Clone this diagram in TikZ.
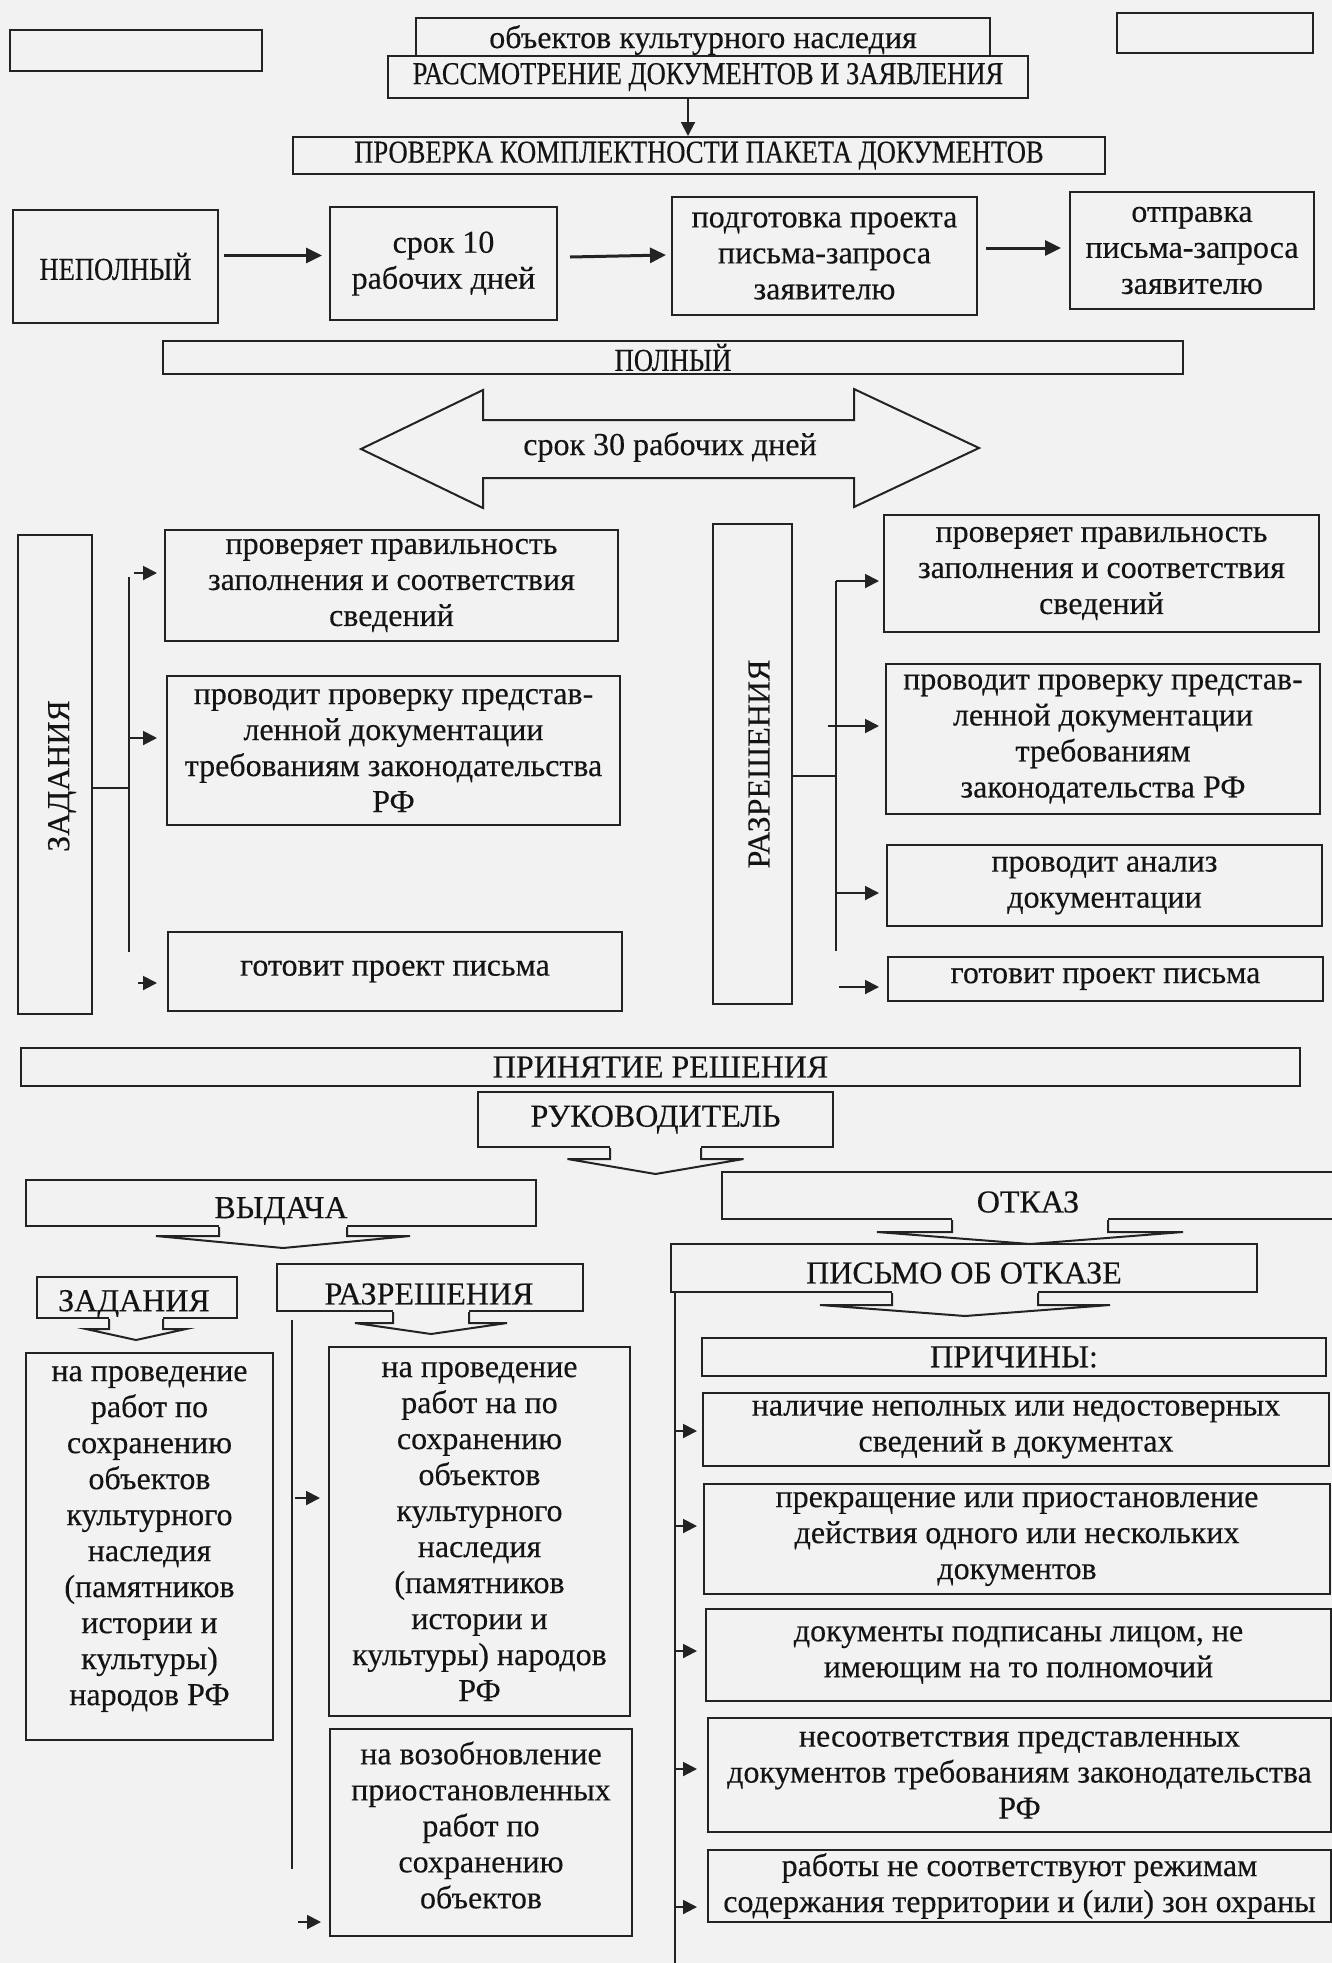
\documentclass[tikz,border=0pt]{standalone}
\usepackage{fontspec}
\setmainfont[FakeBold=0.3]{Liberation Serif}
\newfontfamily\cond[FakeStretch=0.83,FakeBold=0.3]{Liberation Serif}
\usetikzlibrary{arrows.meta,calc}
\definecolor{bg}{RGB}{242,242,242}
\definecolor{ln}{RGB}{35,35,35}
\definecolor{tx}{RGB}{20,20,20}
\newcommand\bodyfont{\fontsize{32}{36}\selectfont}
% #1 node, #2 x offset of stem centre, #3 stem half width, #4 stem length, #5 head half width, #6 head height
\newcommand\downcallout[6]{%
  \fill[bg] ($(#1.south)+(#2-#3,-1.6)$) rectangle ($(#1.south)+(#2+#3,#4)$);
  \draw[lnst] ($(#1.south)+(#2-#3,0)$) -- ++(0,#4) -- ++(#3-#5,0) -- ($(#1.south)+(#2,#4+#6)$) -- ($(#1.south)+(#2+#5,#4)$) -- ++(#3-#5,0) -- ++(0,-#4);
}
\begin{document}
\begin{tikzpicture}[x=1pt,y=-1pt,
  box/.style={draw=ln,line width=2pt,fill=bg,inner sep=3pt,align=center,text=tx,font=\bodyfont},
  txt/.style={text=tx,font=\bodyfont,align=center,inner sep=0pt},
  lnst/.style={draw=ln,line width=2pt},
  arr/.style={draw=ln,line width=2pt,-{Triangle[length=14pt,width=14pt]}},
  bigarr/.style={draw=ln,line width=3pt,-{Triangle[length=16pt,width=15pt]}}]
\useasboundingbox (0,0) rectangle (1332,1963);
\fill[bg] (0,0) rectangle (1332,1963);
\clip (0,0) rectangle (1332,1963);

% ---------- top ----------
\node[box,minimum width=252pt,minimum height=41pt] (tl) at (136,50.5) {};
\node[box,minimum width=196pt,minimum height=40pt] (tr) at (1215,33) {};
\node[box,minimum width=574pt,minimum height=44pt] (obj) at (703,40) {объектов культурного наследия};
\node[box,minimum width=640pt,minimum height=42pt,font=\bodyfont\cond] (rassm) at (708,77) {РАССМОТРЕНИЕ ДОКУМЕНТОВ И ЗАЯВЛЕНИЯ};
\node[box,minimum width=812pt,minimum height=37pt,font=\bodyfont\cond] (prov) at (699,155.5) {ПРОВЕРКА КОМПЛЕКТНОСТИ ПАКЕТА ДОКУМЕНТОВ};
\draw[arr] ($(rassm.south)+(-20,0)$) -- ($(prov.north)+(-11,0)$);

\node[box,minimum width=205pt,minimum height=113pt,font=\bodyfont\cond] (nep) at (115.5,266.5) {НЕПОЛНЫЙ};
\node[box,minimum width=227pt,minimum height=113pt] (s10) at (443.5,263.5) {срок 10\\рабочих дней};
\node[box,minimum width=305pt,minimum height=118pt] (podg) at (824.5,256) {подготовка проекта\\письма-запроса\\заявителю};
\node[box,minimum width=244pt,minimum height=117pt] (otpr) at (1192,250.5) {отправка\\письма-запроса\\заявителю};
\draw[bigarr] ($(nep.east)+(5,-11)$) -- ($(s10.west)+(-7,-8)$);
\draw[bigarr] ($(s10.east)+(12,-6.5)$) -- ($(podg.west)+(-5,-1)$);
\draw[bigarr] ($(podg.east)+(8,-8)$) -- ($(otpr.west)+(-8,-2.5)$);

\node[box,minimum width=1020pt,minimum height=33pt,font=\bodyfont\cond] (poln) at (673,357.5) {ПОЛНЫЙ};

\draw[lnst,fill=bg] (361,449) -- (483,390) -- (483,420) -- (854,420) -- (854,389) -- (979,448) -- (854,507) -- (854,478) -- (483,478) -- (483,508) -- cycle;
\node[txt] (s30) at (670,447) {срок 30 рабочих дней};

% ---------- left group ----------
\node[box,minimum width=74pt,minimum height=479pt] (zad) at (55,774.5) {};
\node[txt,rotate=90] (zadt) at (62,776) {ЗАДАНИЯ};
\coordinate (zj) at (129,788);
\coordinate (zt) at (129,577);
\coordinate (zbt) at (129,952);
\draw[lnst] (zad.east |- zj) -- (zj);
\draw[lnst] (zt) -- (zbt);
\node[box,minimum width=453pt,minimum height=111pt] (L1) at (391.5,585.5) {проверяет правильность\\заполнения и соответствия\\сведений};
\node[box,minimum width=453pt,minimum height=149pt] (L2) at (393.5,750.5) {проводит проверку представ-\\ленной документации\\требованиям законодательства\\РФ};
\node[box,minimum width=454pt,minimum height=79pt] (L3) at (395,971.5) {готовит проект письма};
\coordinate (za1) at (134,573);
\coordinate (za2) at (129,738);
\coordinate (za3) at (138,983);
\draw[arr,shorten >=7pt] (za1) -- (L1.west |- za1);
\draw[arr,shorten >=9pt] (za2) -- (L2.west |- za2);
\draw[arr,shorten >=10pt] (za3) -- (L3.west |- za3);

% ---------- right group ----------
\node[box,minimum width=79pt,minimum height=480pt] (raz) at (752.5,764) {};
\node[txt,rotate=90] (razt) at (759,764) {РАЗРЕШЕНИЯ};
\coordinate (rj) at (836,776);
\coordinate (rt) at (836,581);
\coordinate (rbt) at (836,951);
\draw[lnst] (raz.east |- rj) -- (rj);
\draw[lnst] (rt) -- (rbt);
\node[box,minimum width=435pt,minimum height=117pt] (R1) at (1101.5,573.5) {проверяет правильность\\заполнения и соответствия\\сведений};
\node[box,minimum width=434pt,minimum height=150pt] (R2) at (1103,739) {проводит проверку представ-\\ленной документации\\требованиям\\законодательства РФ};
\node[box,minimum width=435pt,minimum height=81pt] (R3) at (1104.5,885.5) {проводит анализ\\документации};
\node[box,minimum width=435pt,minimum height=44pt] (R4) at (1105.5,979) {готовит проект письма};
\coordinate (ra1) at (836,581);
\coordinate (ra2) at (828,726);
\coordinate (ra3) at (837,893);
\coordinate (ra4) at (839,987);
\draw[arr,shorten >=4pt] (ra1) -- (R1.west |- ra1);
\draw[arr,shorten >=6pt] (ra2) -- (R2.west |- ra2);
\draw[arr,shorten >=7pt] (ra3) -- (R3.west |- ra3);
\draw[arr,shorten >=8pt] (ra4) -- (R4.west |- ra4);

% ---------- decision ----------
\node[box,minimum width=1279pt,minimum height=38pt] (prin) at (660.5,1067) {ПРИНЯТИЕ РЕШЕНИЯ};
\node[box,minimum width=355pt,minimum height=55pt] (ruk) at (655.5,1119.5) {РУКОВОДИТЕЛЬ};
\downcallout{ruk}{0}{45.5}{11}{88}{15}

\node[box,minimum width=510pt,minimum height=46pt] (vyd) at (281,1203) {};
\node[txt] (vydt) at (281,1211) {ВЫДАЧА};
\downcallout{vyd}{2}{64}{9}{127}{12}

\node[box,minimum width=586pt,minimum height=48pt] (pis) at (964,1268) {};
\node[txt] (pist) at (964,1273) {ПИСЬМО ОБ ОТКАЗЕ};
\node[box,minimum width=623pt,minimum height=47pt] (otk) at (1033.5,1195.5) {};
\node[txt] (otkt) at (1028,1202) {ОТКАЗ};
\downcallout{otk}{-3.5}{78}{12}{153}{12}
\downcallout{pis}{1}{73}{12}{145}{11}

\node[box,minimum width=200pt,minimum height=41pt] (zad2) at (137,1297.5) {};
\node[txt] (zad2t) at (134,1304) {ЗАДАНИЯ};
\downcallout{zad2}{-1}{27}{10}{50}{11}
\node[box,minimum width=306pt,minimum height=47pt] (raz2) at (430,1287.5) {};
\node[txt] (raz2t) at (429,1294) {РАЗРЕШЕНИЯ};
\downcallout{raz2}{1}{38}{11}{76}{11}

% ---------- issuance boxes ----------
\node[box,minimum width=247pt,minimum height=387pt] (zl) at (149.5,1546.5) {};
\node[txt] (zlt) at (149.5,1539) {на проведение\\работ по\\сохранению\\объектов\\культурного\\наследия\\(памятников\\истории и\\культуры)\\народов РФ};
\node[box,minimum width=301pt,minimum height=369pt] (RZ1) at (479.5,1531.5) {на проведение\\работ на по\\сохранению\\объектов\\культурного\\наследия\\(памятников\\истории и\\культуры) народов\\РФ};
\node[box,minimum width=302pt,minimum height=207pt] (RZ2) at (481,1832.5) {};
\node[txt] (RZ2t) at (481,1825) {на возобновление\\приостановленных\\работ по\\сохранению\\объектов};
\coordinate (vt) at (292,1320);
\coordinate (vb) at (292,1869);
\draw[lnst] (vt) -- (vb);
\coordinate (va1) at (295,1498);
\coordinate (va2) at (298,1922);
\draw[arr,shorten >=8pt] (va1) -- (RZ1.west |- va1);
\draw[arr,shorten >=8pt] (va2) -- (RZ2.west |- va2);

% ---------- refusal reasons ----------
\coordinate (pvt) at (675,1292);
\coordinate (pvb) at (675,1970);
\draw[lnst] (pvt) -- (pvb);
\node[box,minimum width=624pt,minimum height=38pt] (prich) at (1014,1357) {ПРИЧИНЫ:};
\node[box,minimum width=626pt,minimum height=73pt] (p1) at (1016,1429.5) {наличие неполных или недостоверных\\сведений в документах};
\node[box,minimum width=626pt,minimum height=110pt] (p2) at (1017,1539) {прекращение или приостановление\\действия одного или нескольких\\документов};
\node[box,minimum width=625pt,minimum height=92pt] (p3) at (1018.5,1655) {документы подписаны лицом, не\\имеющим на то полномочий};
\node[box,minimum width=623pt,minimum height=114pt] (p4) at (1019.5,1775) {несоответствия представленных\\документов требованиям законодательства\\РФ};
\node[box,minimum width=623pt,minimum height=72pt] (p5) at (1019.5,1886) {работы не соответствуют режимам\\содержания территории и (или) зон охраны};
\coordinate (pa1) at (676,1431);
\coordinate (pa2) at (676,1526);
\coordinate (pa3) at (676,1651);
\coordinate (pa4) at (676,1769);
\coordinate (pa5) at (676,1907);
\draw[arr,shorten >=5pt] (pa1) -- (p1.west |- pa1);
\draw[arr,shorten >=6pt] (pa2) -- (p2.west |- pa2);
\draw[arr,shorten >=8pt] (pa3) -- (p3.west |- pa3);
\draw[arr,shorten >=10pt] (pa4) -- (p4.west |- pa4);
\draw[arr,shorten >=10pt] (pa5) -- (p5.west |- pa5);
\end{tikzpicture}
\end{document}
